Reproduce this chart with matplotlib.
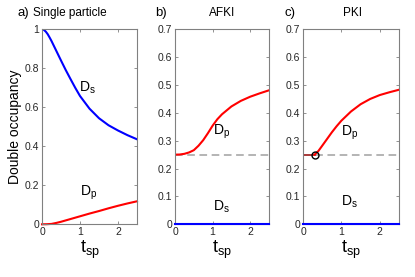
import matplotlib
matplotlib.use("Agg")
import matplotlib.pyplot as plt

plt.rcParams['font.family'] = ['Liberation Sans', 'DejaVu Sans']
plt.rcParams['mathtext.default'] = 'regular'

# ---- data ----
t_a_s = [0, 0.05, 0.1, 0.15, 0.2, 0.25, 0.3, 0.4, 0.5, 0.625, 0.75, 0.875, 1.0,
         1.25, 1.5, 1.75, 2.0, 2.25, 2.5]
ds_a = [1.0, 0.997, 0.988, 0.975, 0.958, 0.94, 0.92, 0.88, 0.84, 0.791, 0.745, 0.700, 0.658,
        0.593, 0.544, 0.508, 0.481, 0.457, 0.436]
t_a_p = [0, 0.125, 0.25, 0.375, 0.5, 0.75, 1.0, 1.25, 1.5, 1.75, 2.0, 2.25, 2.5]
dp_a = [0, 0.0005, 0.002, 0.007, 0.013, 0.027, 0.041, 0.055, 0.068, 0.082, 0.095, 0.107, 0.118]

t_b = [0, 0.125, 0.25, 0.375, 0.5, 0.625, 0.75, 0.875, 1.0, 1.125, 1.25, 1.5, 1.75, 2.0, 2.25, 2.5]
dp_b = [0.25, 0.2505, 0.253, 0.258, 0.266, 0.282, 0.302, 0.327, 0.354, 0.377, 0.395, 0.423, 0.443,
        0.458, 0.47, 0.481]
t_flat = [0, 2.5]
ds_zero = [0, 0]
ref_level = [0.25, 0.25]

t_c_flat = [0, 0.3]
dp_c_flat = [0.25, 0.25]
t_c = [0.3, 0.4, 0.5, 0.625, 0.75, 0.875, 1.0, 1.25, 1.5, 1.75, 2.0, 2.25, 2.5]
dp_c = [0.25, 0.263, 0.282, 0.306, 0.33, 0.352, 0.372, 0.405, 0.431, 0.45, 0.464, 0.474, 0.483]
t_mark = [0.3]
dp_mark = [0.25]

titles = ['Single particle', 'AFKI', 'PKI']
panel_tags = ['a)', 'b)', 'c)']

fig = plt.figure(figsize=(4.15, 2.77), dpi=100)
W, H = 415, 277
boxes = [(42, 95), (175, 94), (303, 96)]
bottom_px, height_px = 224.3, 195
axes = []
for (l, w) in boxes:
    ax = fig.add_axes([l / W, (H - bottom_px) / H, w / W, height_px / H])
    axes.append(ax)

blue = '#0000ff'
red = '#ff0000'
lw = 1.5

ax = axes[0]
ax.plot(t_a_s, ds_a, color=blue, lw=lw)
ax.plot(t_a_p, dp_a, color=red, lw=lw, clip_on=False)
ax.set_ylim(0, 1)
ax.set_yticks([0, 0.2, 0.4, 0.6, 0.8, 1])
ax.set_yticklabels(['0', '0.2', '0.4', '0.6', '0.8', '1'])
ax.set_ylabel('Double occupancy', fontsize=10, labelpad=2)
ax.text(0.98, 0.70, '$D_s$', fontsize=10, ha='left', va='center')
ax.text(1.0, 0.16, '$D_p$', fontsize=10, ha='left', va='center')

ax = axes[1]
ax.plot(t_flat, ref_level, color='#a0a0a0', lw=1.1, dashes=(5, 3))
ax.plot(t_b, dp_b, color=red, lw=lw)
ax.plot(t_flat, ds_zero, color=blue, lw=lw, clip_on=False, zorder=5)
ax.set_ylim(0, 0.7)
ax.text(1.02, 0.332, '$D_p$', fontsize=10, ha='left', va='center')
ax.text(1.02, 0.063, '$D_s$', fontsize=10, ha='left', va='center')

ax = axes[2]
ax.plot(t_flat, ref_level, color='#a0a0a0', lw=1.1, dashes=(5, 3))
ax.plot(t_c_flat, dp_c_flat, color='#a83030', lw=1.3)
ax.plot(t_c, dp_c, color=red, lw=lw)
ax.plot(t_mark, dp_mark, 'o', mfc='none', mec='black', ms=5, mew=1.0)
ax.plot(t_flat, ds_zero, color=blue, lw=lw, clip_on=False, zorder=5)
ax.set_ylim(0, 0.7)
ax.text(1.0, 0.328, '$D_p$', fontsize=10, ha='left', va='center')
ax.text(1.0, 0.081, '$D_s$', fontsize=10, ha='left', va='center')

for i, ax in enumerate(axes):
    ax.set_xlim(0, 2.5)
    ax.set_xticks([0, 1, 2])
    ax.set_xticklabels(['0', '1', '2'])
    if i > 0:
        ax.set_yticks([0, 0.1, 0.2, 0.3, 0.4, 0.5, 0.6, 0.7])
        ax.set_yticklabels(['0', '0.1', '0.2', '0.3', '0.4', '0.5', '0.6', '0.7'])
    ax.tick_params(direction='in', top=True, right=True, length=2.5, width=0.6,
                   labelsize=7.5, colors='#808080', labelcolor='#262626', pad=2)
    for s in ax.spines.values():
        s.set_color('#808080')
        s.set_linewidth(0.8)
    ax.set_xlabel('$t_{sp}$', fontsize=13, labelpad=1)

# titles
title_y = 1 - 13 / H
fig.text(33 / W, title_y, titles[0], fontsize=8.5, ha='left', va='center')
fig.text((175 + 47) / W, title_y, titles[1], fontsize=8.5, ha='center', va='center')
fig.text((303 + 49) / W, title_y, titles[2], fontsize=8.5, ha='center', va='center')

tag_x = [17, 155, 284]
for x, tag in zip(tag_x, panel_tags):
    fig.text(x / W, title_y, tag, fontsize=9.5, ha='left', va='center')

fig.savefig('out.png', dpi=100)
